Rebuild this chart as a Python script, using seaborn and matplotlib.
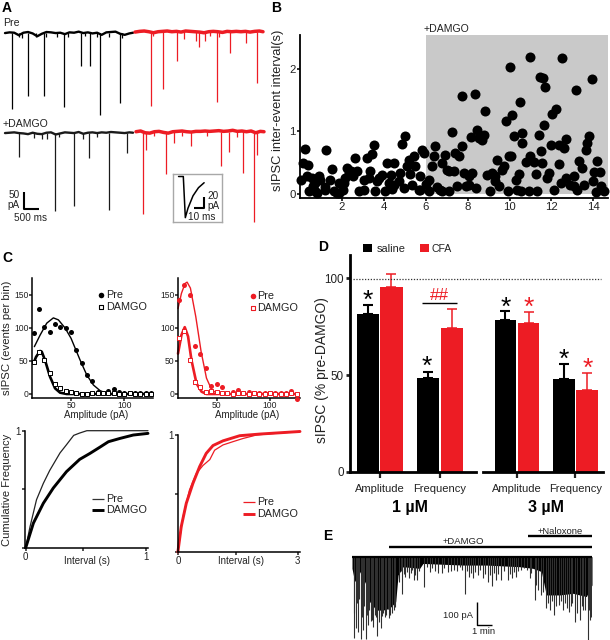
import numpy as np
import pandas as pd
from matplotlib import pyplot as plt
from matplotlib.patches import Rectangle
import seaborn as sns

RED = '#ED1C24'
GREY_BG = '#C9C9C9'

#Panel A - traces (s, pA)
trace_t = [0, .15, .3, .45, .6, .75, .9, 1.05, 1.2, 1.35, 1.5, 1.65, 1.8, 1.95, 2.1, 2.25, 2.4, 2.55, 2.7, 2.85, 3.0, 3.15, 3.3, 3.45, 3.6, 3.75, 3.9, 4.05, 4.17]
pre_sal_base = [0, 2, 1, -6, 1, 3, -1, -9, -2, 3, 2, 0, 1, -3, 2, 1, 4, 0, 2, -1, 1, -5, 2, 3, 4, -2, -5, -1, 1]
pre_cfa_base = [0, 2, 3, 1, -2, 1, 2, 3, 1, 2, 0, 3, 2, 1, 0, -2, 1, 2, 1, -1, 2, 1, 2, 1, 2, 0, 2, 3, 1]
dam_sal_base = [0, 1, 2, 0, -1, -3, 1, -2, -3, 1, 2, -4, -1, 2, 1, 0, 3, -2, 1, 2, 0, 2, 1, 3, 2, 1, 0, 2, 1]
dam_cfa_base = [1, 3, -2, -3, 1, 2, -1, -3, 1, 2, 3, 1, 0, 2, 2, 3, 2, 3, 4, 2, 3, 5, 2, 3, 1, 3, -2, 2, 1]
pre_sal_t = [.22, .74, 1.26, 1.93, 2.48, 2.77, 3.11, 3.75, .45, .55, 1.0, 1.35, 1.7, 2.05, 2.6, 3.0, 3.4, 3.8]
pre_sal_a = [215, 177, 179, 209, 94, 94, 233, 198, 10, 14, 12, 10, 12, 10, 8, 10, 10, 14]
pre_cfa_t = [.51, .91, 1.36, 2.08, 2.66, 3.09, 3.99, 1.6, 2.0, 2.27, 3.62, .6, 2.45, 2.75]
pre_cfa_a = [208, 161, 81, 42, 199, 59, 144, 20, 26, 26, 31, 10, 12, 14]
dam_sal_t = [.45, 1.64, 2.26, 2.75, 3.38, 3.97, .93, 1.2, 1.36, 1.77, 2.55, 3.0]
dam_sal_a = [68, 219, 205, 71, 217, 57, 14, 16, 16, 10, 16, 12]
dam_cfa_t = [.22, .32, .97, 1.25, 1.79, 2.77, 3.03, 3.50, 3.86, 3.95, .6, 1.5, 2.3, 3.3]
dam_cfa_a = [231, 52, 118, 31, 40, 96, 57, 116, 253, 66, 12, 10, 12, 14]
inset_t = [0, 4.7, 6.7, 9.3, 14.3, 19.7, 25.3]
inset_v = [0, 0, -66, -51, -31, -18, -10]

#Panel B - inter-event interval
b_x = [.22, .14, .38, .06, .33, .57, .45, .70, .89, .73, .97, .62, 1.21, .81, 1.26, 1.53, 1.45, 1.21, 1.61, 1.77,
       1.85, 2.09, 2.04, 1.88, 2.25, 2.32, 2.17, 2.45, 2.52, 2.72, 2.64, 3.20, 3.44, 3.52, 3.36, 3.04, 3.28, 2.80, 3.04, 3.60,
       3.68, 3.92, 3.76, 4.16, 4.47, 4.32, 4.24, 4.47, 4.08, 4.39, 4.79, 4.71, 4.87, 5.03, 5.11, 5.19, 5.43, 5.51, 5.27, 4.95,
       5.35, 5.67, 5.75, 5.83, 5.91, 6.31, 6.39, 6.46, 6.15, 5.99, 5.75, 6.15, 6.78, 6.94, 7.02, 7.26, 7.34, 7.10, 6.54, 6.70,
       6.78, 7.10, 7.50, 7.42, 7.58, 7.74, 7.74, 8.34, 7.82, 8.22, 7.90, 8.06, 8.14, 8.46, 8.54, 8.69, 8.77, 8.85, 8.38, 8.06,
       8.93, 9.17, 9.33, 9.41, 9.09, 9.33, 9.49, 9.65, 9.73, 9.81, 10.02, 10.13, 9.94, 9.97, 10.08, 10.21, 10.29, 10.45, 10.51, 10.61,
       10.61, 10.37, 10.57, 10.81, 11.0, 11.0, 11.16, 10.92, 11.24, 11.32, 11.43, 11.48, 11.56, 11.45, 11.61, 11.69, 11.66, 11.77, 11.88, 11.96,
       12.04, 12.2, 12.12, 12.36, 12.36, 12.6, 12.52, 12.68, 12.44, 12.68, 12.91, 13.07, 13.07, 13.23, 13.15, 13.31, 13.47, 13.55, 13.63, 13.71,
       13.79, 13.92, 13.98, 14.19, 14.32, 14.03, 14.11, 14.35, 14.51]
b_y = [.72, .49, .46, .22, .28, .25, .04, .04, .29, .17, .22, .12, .06, .02, .70, .40, .23, .11, .05, .02,
       .17, .18, .07, .01, .42, .33, .25, .36, .28, .36, .57, .57, .64, .78, .36, .23, .25, .05, .06, .05,
       .20, .30, .25, .49, .49, .30, .17, .14, .04, .08, .34, .20, .80, .93, .45, .54, .61, .45, .32, .09,
       .14, .07, .28, .70, .65, .45, .60, .77, .22, .16, .06, .04, .49, .63, .38, .99, .37, .36, .11, .06,
       .04, .05, .13, .65, .60, .77, 1.57, 1.60, .33, .34, .12, .28, .91, 1.03, .89, .86, .94, 1.33, .09, .14,
       .30, .33, .28, .55, .04, .20, .12, .38, .45, 1.17, 2.03, 1.26, .04, .60, .61, .93, .22, .32, 1.47, .97,
       .82, .06, .05, .51, 2.19, .60, .51, .05, .32, .05, .95, .69, .49, 1.87, 1.86, 1.71, 1.10, .25, .33, .78,
       1.28, 1.36, .06, .78, .48, .74, 2.18, .88, .18, .25, .14, .28, .13, .06, 1.66, .52, .41, .14, .70, .81,
       .93, 1.83, .21, .53, .35, .35, .03, .12, .05]

#Panel C - amplitude histograms
amp_bins = [15, 20, 25, 30, 35, 40, 45, 50, 55, 60, 65, 70, 75, 80, 85, 90, 95, 100, 105, 110, 115, 120, 125]
sal_pre = [92, 128, 101, 94, 106, 101, 100, 93, 67, 47, 28, 19, 3, 2, 5, 7, 3, 2, 2, 1, 1, 2, 1]
sal_dam = [49, 64, 52, 31, 15, 9, 5, 3, 1.5, 0, 0, 1, 2, 1, 2, 1, 0, 0, 1, 0, 0, 0, 0]
cfa_pre = [142, 165, 150, 73, 61, 40, 12, 15, 11, 1, 3, 6, 2, 3, 2, 2, 2, 1, 2, 1, 1, 4, -8]
cfa_dam = [84, 95, 51, 18, 10, 3, 5, 3, 2, 1, 0, 1, 1, 0, 1, 0, 0, 1, 0, 0, 0, 1, 0]
sal_pre_fit_x = [15.6, 21, 27.2, 33.4, 38.1, 44.4, 50, 58.4, 64.7, 70.9, 77.2, 83.4, 89.7, 127]
sal_pre_fit_y = [71.5, 89, 107, 115, 112, 99.7, 84, 51.4, 28.7, 13.6, 5, 1, 0, 0]
sal_dam_fit_x = [14.7, 17.2, 21, 22.5, 25.6, 30.3, 35, 39.7, 45.9, 125]
sal_dam_fit_y = [46, 56, 65, 64, 51, 26, 8.6, 2, 0, 0]
cfa_pre_fit_x = [14, 17.2, 20.6, 22.5, 25.6, 30.6, 35.6, 40.6, 45.6, 50.6, 54.7, 126]
cfa_pre_fit_y = [129, 152, 167, 169, 160, 117, 64, 24, 6, 1, 0, 0]
cfa_dam_fit_x = [14, 17.2, 20.3, 23.4, 26.6, 31.3, 36, 40.6, 126]
cfa_dam_fit_y = [61, 89, 101, 87, 51, 16, 3.5, 0, 0]

#Panel C - cumulative frequency
cum_sal_pre_x = [0, .036, .09, .147, .2, .286, .34, .4, .45, .51, 1.02]
cum_sal_pre_y = [0, .18, .41, .55, .66, .81, .88, .96, .98, 1, 1]
cum_sal_dam_x = [0, .064, .147, .23, .34, .45, .536, .62, .69, .786, .897, 1.02]
cum_sal_dam_y = [0, .21, .38, .51, .65, .755, .806, .86, .906, .934, .963, .977]
cum_cfa_pre_x = [0, .126, .29, .46, .63, .80, .92, 1.13, 1.38, 1.63, 1.97, 2.22, 3.06]
cum_cfa_pre_y = [0, .30, .53, .67, .74, .79, .87, .915, .943, .97, 1.0, 1.008, 1.03]
cum_cfa_dam_x = [0, .084, .21, .377, .545, .71, .88, 1.13, 1.55, 2.05, 3.06]
cum_cfa_dam_y = [0, .217, .416, .587, .73, .843, .91, .95, .994, 1.008, 1.03]

#Panel D - bars
measures = ['Amplitude', 'Frequency']
treatments = ['saline', 'CFA']
um1_saline = [81.5, 48.4]
um1_cfa = [95.3, 74.5]
um3_saline = [78.4, 48.1]
um3_cfa = [77.0, 42.2]
um1_saline_err = [4.5, 3.3]
um1_cfa_err = [6.7, 9.6]
um3_saline_err = [4.9, 7.9]
um3_cfa_err = [5.8, 8.8]

#Panel E - long recording (min, pA)
env_t = [0, .17, .49, .91, 1.13, 1.55, 1.98, 2.40, 2.79, 2.94, 3.26, 4.32, 4.53, 7.09, 8.57, 10.70, 11.55, 12.09, 12.40, 13.26, 14.11, 14.96, 15.32]
env_a = [50, 107, 64, 121, 193, 229, 229, 221, 193, 79, 43, 50, 29, 36, 36, 43, 50, 64, 164, 164, 157, 171, 121]
spike_t = [.11, .23, .38, .57, .70, .87, 1.02, 1.23, 1.34, 1.62, 1.83, 2.09, 2.36, 2.57, 3.19, 3.36, 3.64, 3.94, 4.15, 4.60, 4.96, 5.74, 6.13,
           7.23, 7.45, 7.72, 8.04, 8.36, 8.68, 8.94, 9.21, 9.53, 9.96, 10.23, 10.49, 11.34, 11.66, 11.87, 12.04, 12.36, 12.62, 12.89, 13.21, 13.47,
           13.83, 14.21, 14.53, 14.85, 15.06, 15.21,
           .15, .3, .45, .62, .78, .95, 1.1, 1.3, 1.45, 1.55, 1.7, 1.9, 2.0, 2.2, 2.3, 2.45, 2.65, 2.75,
           3.0, 3.1, 3.3, 3.5, 3.75, 3.85, 4.05, 4.3, 4.8, 5.1, 5.3, 5.5, 5.9, 6.3, 6.5, 6.7, 6.9, 7.05, 7.35, 7.6, 7.85, 8.2, 8.5, 8.8, 9.05, 9.35, 9.7, 10.1, 10.35, 10.6, 10.8, 11.0, 11.2, 11.45,
           11.75, 12.2, 12.5, 12.75, 13.0, 13.35, 13.6, 13.7, 13.95, 14.05, 14.35, 14.65, 14.75, 15.15, 15.28]
spike_a = [350, 307, 321, 353, 314, 353, 293, 276, 300, 339, 307, 257, 264, 243, 161, 86, 93, 100, 100, 129, 64, 71, 67,
           160, 86, 90, 79, 93, 107, 124, 100, 100, 100, 93, 86, 90, 186, 143, 164, 219, 229, 250, 207, 229,
           236, 279, 271, 229, 357, 271,
           240, 200, 180, 260, 210, 250, 230, 270, 250, 260, 280, 255, 240, 250, 225, 250, 230, 215,
           110, 60, 75, 65, 70, 55, 80, 60, 45, 50, 60, 70, 50, 60, 55, 60, 45, 55, 60, 70, 65, 55, 75, 80, 70, 75, 60, 75, 65, 60, 55, 50, 55, 70,
           120, 150, 200, 190, 210, 190, 200, 220, 210, 200, 240, 210, 230, 230, 260]

sns.set_style('ticks')
plt.rcParams['font.family'] = ['Liberation Sans', 'DejaVu Sans']
plt.rcParams['text.color'] = '#222222'
plt.rcParams['axes.edgecolor'] = 'black'

fig = plt.figure(figsize=(6.1, 6.4), dpi=100)


def px_axes(l, t, r, b):
    #axes placed in picture pixels
    ax = fig.add_axes([l / 610, 1 - b / 640, (r - l) / 610, (b - t) / 640])
    ax.patch.set_alpha(0)
    return ax


def style(ax, lw=1.2, size=7, length=3, pad=1.5):
    sns.despine(ax=ax)
    for s in ['left', 'bottom']:
        ax.spines[s].set_linewidth(lw)
    ax.tick_params(labelsize=size, length=length, width=lw, pad=pad, colors='#222222')
    ax.set_xlabel('')
    ax.set_ylabel('')


def line(ax, x, y, color, lw):
    sns.lineplot(x=x, y=y, ax=ax, color=color, linewidth=lw, estimator=None, sort=False, legend=False, clip_on=False)


def trace(l, t, base, ev_t, ev_a, color, lw):
    ax = px_axes(l, t, l + 128, t + 99)
    ax.axis('off')
    ax.set_xlim(0, 4.17)
    ax.set_ylim(-260, 20)
    line(ax, trace_t, base, color, lw)
    ax.vlines(ev_t, 0, -np.array(ev_a), color=color, linewidth=.9)


#A
trace(5, 26, pre_sal_base, pre_sal_t, pre_sal_a, 'black', 1.7)
trace(135, 25, pre_cfa_base, pre_cfa_t, pre_cfa_a, RED, 2.5)
trace(5, 126, dam_sal_base, dam_sal_t, dam_sal_a, '#1a1a1a', 1.7)
trace(136, 125, dam_cfa_base, dam_cfa_t, dam_cfa_a, RED, 2.5)

ax_in = px_axes(173, 174, 222, 222)
ax_in.set_xlim(-5.5, 43)
ax_in.set_ylim(-73, 4)
ax_in.set_xticks([])
ax_in.set_yticks([])
for s in ax_in.spines.values():
    s.set_color('#A8A8A8')
    s.set_linewidth(1)
line(ax_in, inset_t, inset_v, 'black', 1.1)

#B
ax_b = px_axes(300, 35, 608, 198)
ax_b.set_xlim(0, 14.7)
ax_b.set_ylim(-.064, 2.54)
ax_b.axvspan(6, 14.7, ymin=.064 / 2.604, color=GREY_BG, lw=0)
sns.scatterplot(x=b_x, y=b_y, ax=ax_b, color='black', s=52, linewidth=0, legend=False, clip_on=False, zorder=3)
style(ax_b, lw=1.3, size=8.2, length=2.2, pad=1)
ax_b.set_xticks([2, 4, 6, 8, 10, 12, 14])
ax_b.set_yticks([0, 1, 2])

#C top
for box, xl, pre, dam, pfx, pfy, dfx, dfy, col in [
    ((32, 277.7, 153.3, 397.7), (13.4, 127), sal_pre, sal_dam, sal_pre_fit_x, sal_pre_fit_y, sal_dam_fit_x, sal_dam_fit_y, 'black'),
    ((178, 277.7, 300, 397.7), (14, 128), cfa_pre, cfa_dam, cfa_pre_fit_x, cfa_pre_fit_y, cfa_dam_fit_x, cfa_dam_fit_y, RED)]:
    ax = px_axes(*box)
    ax.set_xlim(*xl)
    ax.set_ylim(-5.6, 175.7)
    line(ax, pfx, pfy, col, 1.0)
    line(ax, dfx, dfy, col, 1.9)
    sns.scatterplot(x=amp_bins, y=pre, ax=ax, color=col, s=13, linewidth=0, legend=False, clip_on=False, zorder=3)
    sns.scatterplot(x=amp_bins, y=dam, ax=ax, marker='s', s=10, facecolor='white', edgecolor=col, linewidth=.7, legend=False, clip_on=False, zorder=3)
    style(ax, lw=1.1, size=6.2, length=2, pad=.5)
    ax.set_xticks([50, 100])
    ax.set_yticks([0, 50, 100, 150])

#C bottom
ax_cl = px_axes(25, 430.7, 148, 547.7)
ax_cl.set_xlim(-.006, 1.02)
ax_cl.set_ylim(0, 1)
line(ax_cl, cum_sal_pre_x, cum_sal_pre_y, '#222222', .9)
line(ax_cl, cum_sal_dam_x, cum_sal_dam_y, 'black', 2.1)
style(ax_cl, lw=1.1, size=7, length=2, pad=1)
ax_cl.set_xticks([0, .475, 1], ['0', '', '1'])
ax_cl.set_yticks([0, .5, 1], ['', '', '1'])

ax_cr = px_axes(177.7, 435, 300, 552)
ax_cr.set_xlim(-.005, 3.06)
ax_cr.set_ylim(0, 1)
line(ax_cr, cum_cfa_pre_x, cum_cfa_pre_y, RED, .9)
line(ax_cr, cum_cfa_dam_x, cum_cfa_dam_y, RED, 2.1)
style(ax_cr, lw=1.1, size=7, length=2, pad=1)
ax_cr.set_xticks([0, 1.45, 3], ['0', '', '3'])
ax_cr.set_yticks([0, .5, 1], ['', '', '1'])

#D
def bars(box, xl, sal, cfa, sal_err, cfa_err):
    ax = px_axes(*box)
    df = pd.DataFrame({'measure': measures * 2, 'value': sal + cfa,
                       'group': [treatments[0]] * 2 + [treatments[1]] * 2})
    sns.barplot(data=df, x='measure', y='value', hue='group', hue_order=treatments, ax=ax,
                palette=['black', RED], width=.79, gap=.07, saturation=1, legend=False, linewidth=0)
    ax.set_xlim(*xl)
    ax.set_ylim(0, 112)
    for bar, e, col, lw in zip(ax.patches, sal_err + cfa_err, ['black'] * 2 + [RED] * 2, [1.5] * 2 + [1.1] * 2):
        ax.errorbar(bar.get_x() + bar.get_width() / 2, bar.get_height(), yerr=[[0], [e]],
                    color=col, elinewidth=lw, capsize=3.8, capthick=lw)
    style(ax, lw=2, size=8, length=4.5)
    ax.tick_params(axis='x', pad=4.5, width=1.6)
    return ax


ax_d1 = bars((350, 255, 476, 472), (-.49, 1.6), um1_saline, um1_cfa, um1_saline_err, um1_cfa_err)
ax_d1.set_yticks([0, 50, 100])
ax_d1.tick_params(axis='y', labelsize=8.4, length=3)
ax_d2 = bars((482.7, 255, 603, 472), (-.585, 1.47), um3_saline, um3_cfa, um3_saline_err, um3_cfa_err)
ax_d2.set_yticks([])
ax_d2.spines['left'].set_visible(False)

#E
ax_e = px_axes(352, 552, 592, 640)
ax_e.axis('off')
ax_e.set_xlim(0, 15.32)
ax_e.set_ylim(357, -20)
ax_e.fill_between(env_t, 0, env_a, color='black', lw=0)
ax_e.vlines(spike_t, 0, spike_a, color='#303030', linewidth=.8)
ax_e.plot([0, 15.32], [0, 0], color='black', lw=1.6)

#text, scale bars and legends on a full picture overlay
ov = fig.add_axes([0, 0, 1, 1], zorder=10)
ov.set_xlim(0, 610)
ov.set_ylim(640, 0)
ov.axis('off')


def txt(x, y, s, size=8, ha='left', **kw):
    ov.text(x, y, s, fontsize=size, ha=ha, va='center', **kw)


def seg(xs, ys, color='black', lw=1.3, ls='-'):
    ov.plot(xs, ys, color=color, lw=lw, ls=ls, solid_capstyle='butt')


for x, y, s in [(2, 8, 'A'), (271, 8, 'B'), (2, 258, 'C'), (318, 247, 'D'), (323, 536, 'E')]:
    txt(x, y, s, size=10, fontweight='bold', color='black')

txt(3, 23, 'Pre', 7.6)
txt(3, 124, '+DAMGO', 7.6)
seg([24, 24, 39], [192, 209, 209], lw=1.5)
txt(20, 195, '50', 7.2, ha='right')
txt(20, 205, 'pA', 7.2, ha='right')
txt(31, 218, '500 ms', 7.2, ha='center')
seg([193.5, 203.5, 203.5], [207.5, 207.5, 197], lw=1.5)
txt(207, 196, '20', 7.2)
txt(207, 206, 'pA', 7.2)
txt(202, 216.5, '10 ms', 7.2, ha='center')

txt(424, 29, '+DAMGO', 7.6)
ov.text(278, 110, 'sIPSC inter-event interval(s)', fontsize=9.3, rotation=90, ha='center', va='center')

ov.text(7, 338, 'sIPSC (events per bin)', fontsize=8.2, rotation=90, ha='center', va='center')
txt(96, 415, 'Amplitude (pA)', 7, ha='center')
txt(247, 415, 'Amplitude (pA)', 7, ha='center')
ov.text(7, 490, 'Cumulative Frequency', fontsize=8, rotation=90, ha='center', va='center')
txt(87, 561, 'Interval (s)', 7, ha='center')
txt(241, 561, 'Interval (s)', 7, ha='center')

#C legends
ov.scatter([101], [295], s=16, color='black', lw=0)
ov.scatter([101], [307], s=10, marker='s', facecolor='white', edgecolor='black', lw=.8)
ov.scatter([252.5], [295.5], s=16, color=RED, lw=0)
ov.scatter([252.5], [307.5], s=10, marker='s', facecolor='white', edgecolor=RED, lw=.8)
txt(106, 295, 'Pre', 7.8)
txt(106, 307, 'DAMGO', 7.8)
txt(257, 296, 'Pre', 7.8)
txt(257, 308, 'DAMGO', 7.8)
seg([92, 104], [499, 499], color='#333333', lw=.9)
seg([92, 104], [510, 510], lw=2.1)
seg([243, 255], [502, 502], color=RED, lw=.9)
seg([243, 255], [514, 514], color=RED, lw=2.1)
txt(106, 499, 'Pre', 7.8)
txt(106, 510, 'DAMGO', 7.8)
txt(257, 502, 'Pre', 7.8)
txt(257, 514, 'DAMGO', 7.8)

#D extras
ov.text(322, 370, 'sIPSC (% pre-DAMGO)', fontsize=10, rotation=90, ha='center', va='center')
seg([353, 601], [278.7, 278.7], color='#333333', lw=.9, ls=(0, (1, 1.3)))
ov.add_patch(Rectangle((363, 244), 9, 8, color='black', lw=0))
ov.add_patch(Rectangle((420, 244), 9, 8, color=RED, lw=0))
txt(377, 249, 'saline', 7.9)
txt(432, 249, 'CFA', 7.6)
for x, y, c in [(367.3, 293, 'black'), (426.7, 359, 'black'), (505.3, 300, 'black'), (529, 300, RED),
                (563.7, 352, 'black'), (588, 361, RED)]:
    ov.text(x, y + 15, '*', fontsize=19, ha='center', va='baseline', color=c)
seg([422.3, 456.7], [303, 303], lw=1)
txt(439.3, 295, '##', 12.3, ha='center', color=RED)
txt(409.5, 507.5, '1 µM', 11.5, ha='center', fontweight='bold', color='black')
txt(546, 507.5, '3 µM', 11.5, ha='center', fontweight='bold', color='black')

#E extras
seg([389, 592], [546.7, 546.7], lw=1.7)
seg([528, 592], [535.7, 535.7], lw=1.7)
txt(463, 541, '+DAMGO', 6.8, ha='center')
txt(560, 531, '+Naloxone', 6.8, ha='center')
seg([476.7, 476.7, 492], [601.7, 625, 625], lw=1)
txt(473, 615, '100 pA', 6.8, ha='right')
txt(484, 632, '1 min', 6.8, ha='center')

plt.savefig('out.png', dpi=100)
